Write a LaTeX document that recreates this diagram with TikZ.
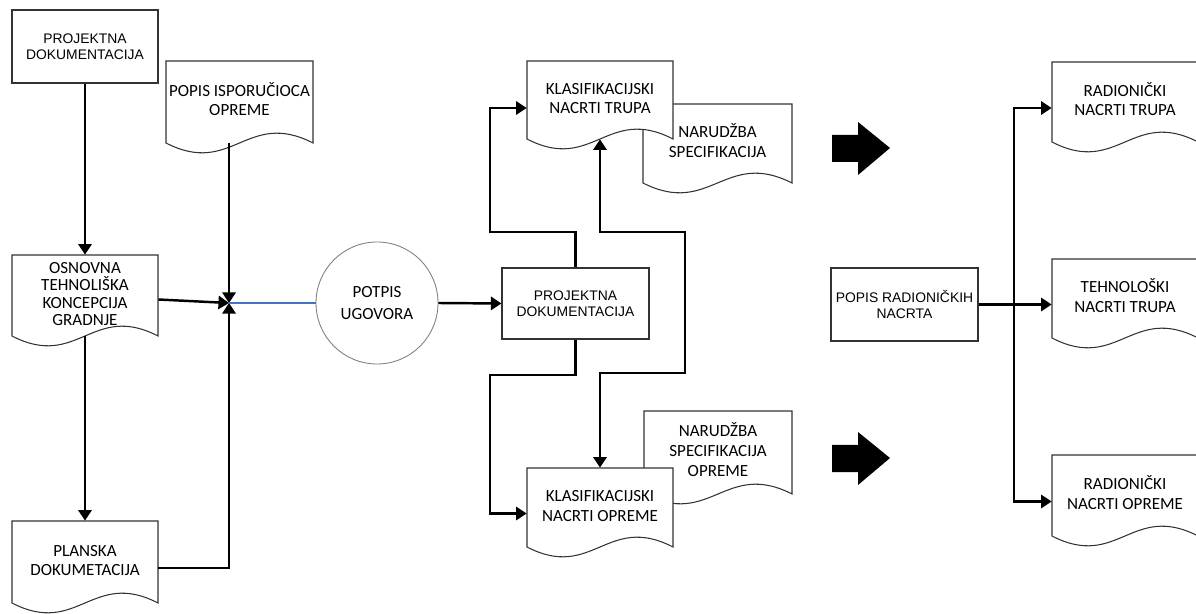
\documentclass[tikz,border=0pt]{standalone}
\usepackage{fontspec}
\setmainfont{Carlito}
\newfontfamily\arialfont{Liberation Sans}
\usetikzlibrary{arrows.meta,calc}

\definecolor{linkblue}{RGB}{68,114,196}

\tikzset{
 docline/.style={draw=black!80, fill=white, line width=0.6pt},
 doctext/.style={align=center, inner sep=0pt, text=black,
   font=\fontsize{9.7}{11.3}\selectfont},
 boxnode/.style={draw=black!80, line width=0.6pt, align=center, inner sep=0pt,
   text=black, font=\arialfont\fontsize{7.9}{9}\selectfont},
 flow/.style={line width=1.4pt, ->},
}

% document symbol: [text shift], name, left x, top y, width, height, text
\newcommand{\docshape}[7][0pt]{%
 \path[docline] (#3,#4) -- ({#3+#5},#4) -- ({#3+#5},{#4+#6})
   .. controls ({#3+0.55*#5},{#4+#6-34}) and ({#3+0.45*#5},{#4+#6+34}) .. (#3,{#4+#6}) -- cycle;
 \node[doctext, minimum width={#5*0.02cm}, minimum height={#6*0.02cm}] (#2)
   at ({#3+#5/2},{#4+#6/2}) {\raisebox{#1}{\begin{tabular}{@{}c@{}}#7\end{tabular}}};
}

\begin{document}
\begin{tikzpicture}[x=0.02cm, y=-0.02cm, >={Triangle[length=6pt,width=7.5pt]}]
 \useasboundingbox (0,0) rectangle (1196,614);

 % left column
 \node[boxnode, minimum width=146*0.02cm, minimum height=73*0.02cm] (pd1) at (85,46.5)
   {PROJEKTNA\\DOKUMENTACIJA};
 \docshape[2.5pt]{popis}{166}{61}{147}{82}{POPIS ISPORUČIOCA\\OPREME}
 \docshape{osn}{12}{255}{146}{81}{OSNOVNA\\[-1.5pt]TEHNOLIŠKA\\[-1.5pt]KONCEPCIJA\\[-1.5pt]GRADNJE}
 \docshape{plan}{12}{521}{146}{82}{PLANSKA\\DOKUMETACIJA}

 % contract
 \node[circle, draw=black!50, line width=0.5pt, minimum size=122*0.02cm, align=center,
   text=black, font=\fontsize{9.7}{12}\selectfont] (sign) at (377,303) {POTPIS\\UGOVORA};

 % middle column
 \node[boxnode, minimum width=147*0.02cm, minimum height=71*0.02cm] (pd2) at (575.5,303.5)
   {PROJEKTNA\\DOKUMENTACIJA};
 \docshape[-3.5pt]{nsp}{643}{104}{149}{79}{NARUDŽBA\\SPECIFIKACIJA}
 \docshape[1pt]{ktr}{527}{61}{146}{78}{KLASIFIKACIJSKI\\NACRTI TRUPA}
 \docshape{nspo}{644}{411}{148}{83}{NARUDŽBA\\SPECIFIKACIJA\\OPREME}
 \docshape{kop}{527}{468}{146}{79}{KLASIFIKACIJSKI\\NACRTI OPREME}

 % right column
 \node[boxnode, minimum width=147*0.02cm, minimum height=73*0.02cm] (prn) at (904.5,304.5)
   {POPIS RADIONIČKIH\\NACRTA};
 \docshape{rtr}{1052}{62}{146}{80}{RADIONIČKI\\NACRTI TRUPA}
 \docshape{ttr}{1052}{259}{146}{79}{TEHNOLOŠKI\\NACRTI TRUPA}
 \docshape{rop}{1052}{455}{146}{81}{RADIONIČKI\\NACRTI OPREME}

 % connectors, left part
 \coordinate (j) at (229,303);
 \draw[flow] (pd1.south) -- (osn.north);
 \draw[flow] (osn.south) -- (plan.north);
 \draw[flow] (popis.south -| j) -- (j);
 \draw[flow] ($(osn.east)+(0,4)$) -- (j);
 \draw[flow] ($(plan.east)+(0,6)$) -| (j);
 \draw[linkblue, line width=0.6pt] (j) -- (sign.west);
 \draw[flow] (sign.east) -- (pd2.west);

 % connectors, middle part
 \coordinate (up1) at (490,232);
 \coordinate (dn1) at (490,375);
 \coordinate (r1) at (685,232);
 \coordinate (r2) at (685,373);
 \draw[flow] (pd2.north) |- (up1) |- ($(ktr.west)+(0,8)$);
 \draw[flow] (pd2.south) |- (dn1) |- ($(kop.west)+(0,6)$);
 \draw[flow, <->] (ktr.south) |- (r1) -- (r2) -| (kop.north);

 % connectors, right part
 \coordinate (b) at (1014,304);
 \draw[flow] (prn.east) -- (prn.east -| ttr.west);
 \draw[flow] (b) |- ($(rtr.west)+(0,6)$);
 \draw[flow] (b) |- ($(rop.west)+(0,6)$);

 % block arrows
 \foreach \ty in {148,458}
   \fill (832,{\ty-13}) -- (858,{\ty-13}) -- (858,{\ty-26}) -- (890,\ty)
     -- (858,{\ty+27}) -- (858,{\ty+14}) -- (832,{\ty+14}) -- cycle;
\end{tikzpicture}
\end{document}
